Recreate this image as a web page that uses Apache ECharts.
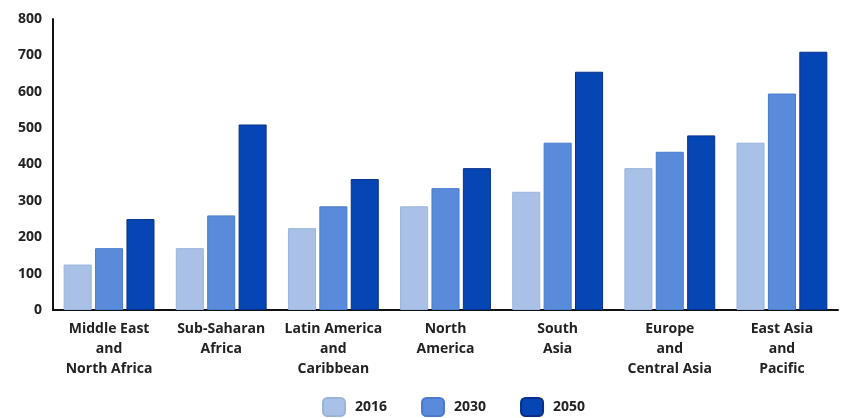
<!DOCTYPE html>
<html>
<head>
<meta charset="utf-8">
<script src="https://cdn.jsdelivr.net/npm/echarts@6/dist/echarts.min.js"></script>
<style>html,body{margin:0;padding:0;background:#fff}#c{width:843px;height:418px}</style>
</head>
<body>
<div id="c"></div>
<script>
const categories = ["Middle East\nand\nNorth Africa", "Sub-Saharan\nAfrica", "Latin America\nand\nCaribbean", "North\nAmerica", "South\nAsia", "Europe\nand\nCentral Asia", "East Asia\nand\nPacific"];
const years = ["2016", "2030", "2050"];
const values2016 = [125, 170, 225, 285, 325, 390, 460];
const values2030 = [170, 260, 285, 335, 460, 435, 595];
const values2050 = [250, 510, 360, 390, 655, 480, 710];
const yTicks = [0, 100, 200, 300, 400, 500, 600, 700, 800];

const colors = ["#a9c1e6", "#5a8bdb", "#0646b4"];
const borders = ["#9bb4dc", "#4a7bcf", "#0a2f8a"];
const seriesData = [values2016, values2030, values2050];
const font = "Open Sans";

const chart = echarts.init(document.getElementById('c'));
chart.setOption({
  animation: false,
  grid: {left: 53, right: 5, top: 19, bottom: 108},
  legend: {
    top: 397, left: 322, padding: 0, itemWidth: 22, itemHeight: 18, itemGap: 34,
    textStyle: {fontFamily: font, fontWeight: 'bold', fontSize: 14, color: '#222', padding: [0, 0, 0, 5]},
    data: years
  },
  xAxis: {
    type: 'category', data: categories,
    axisLine: {lineStyle: {color: '#111', width: 2}},
    axisTick: {show: false},
    axisLabel: {fontFamily: font, fontWeight: 'bold', fontSize: 14, color: '#222', lineHeight: 20, margin: 9, interval: 0}
  },
  yAxis: {
    type: 'value', min: yTicks[0], max: yTicks[yTicks.length - 1], interval: 100,
    axisLine: {show: true, lineStyle: {color: '#111', width: 2}},
    axisTick: {show: false},
    splitLine: {show: false},
    axisLabel: {fontFamily: font, fontWeight: 'bold', fontSize: 14, color: '#222', margin: 11}
  },
  series: years.map((y, i) => ({
    name: y, type: 'bar', data: seriesData[i],
    barWidth: '25%', barGap: '12%',
    itemStyle: {color: colors[i], borderColor: borders[i], borderWidth: 1}
  }))
});
</script>
</body>
</html>
